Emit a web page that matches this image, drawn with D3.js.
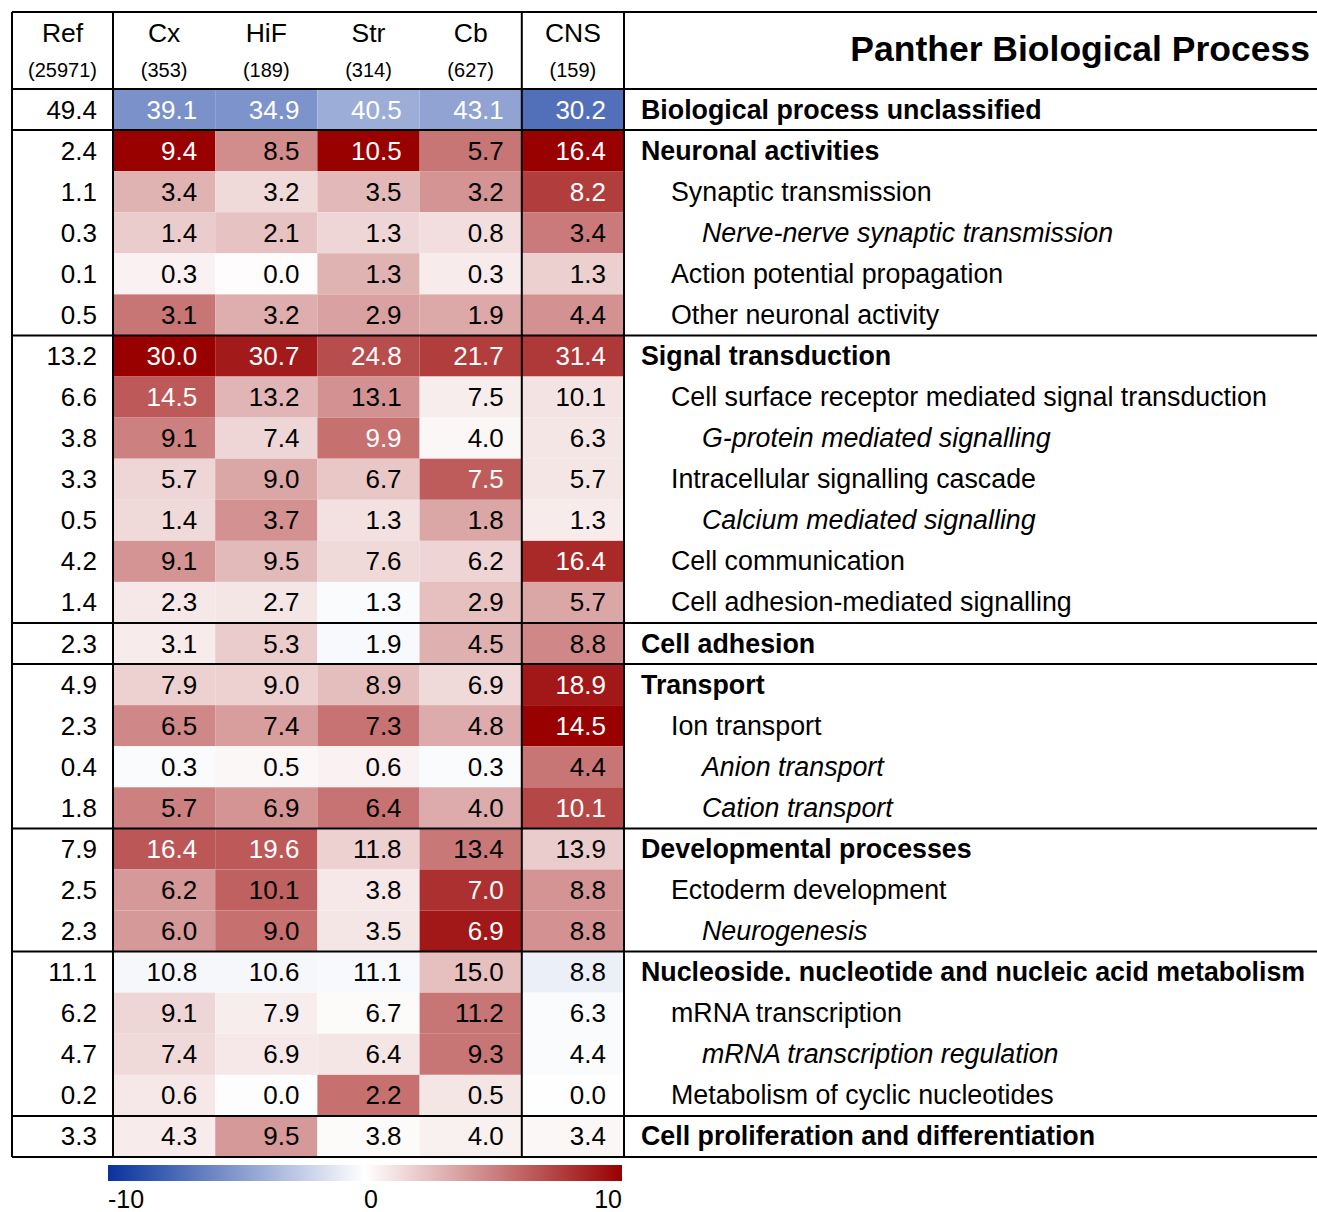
<!DOCTYPE html>
<html>
<head>
<meta charset="utf-8">
<script src="https://cdn.jsdelivr.net/npm/d3@7"></script>
<style>
  html, body { margin: 0; padding: 0; background: #ffffff; }
  svg { display: block; font-family: "Liberation Sans", Arial, Helvetica, sans-serif; }
</style>
</head>
<body>
<svg id="chart" width="1317" height="1212"></svg>
<script>
// ---------------- DATA ----------------
const columns = ["Cx", "HiF", "Str", "Cb", "CNS"];
const columnCounts = ["(353)", "(189)", "(314)", "(627)", "(159)"];
const refCount = "(25971)";
const title = "Panther Biological Process";

const labels = [
  "Biological process unclassified",
  "Neuronal activities",
  "Synaptic transmission",
  "Nerve-nerve synaptic transmission",
  "Action potential propagation",
  "Other neuronal activity",
  "Signal transduction",
  "Cell surface receptor mediated signal transduction",
  "G-protein mediated signalling",
  "Intracellular signalling cascade",
  "Calcium mediated signalling",
  "Cell communication",
  "Cell adhesion-mediated signalling",
  "Cell adhesion",
  "Transport",
  "Ion transport",
  "Anion transport",
  "Cation transport",
  "Developmental processes",
  "Ectoderm development",
  "Neurogenesis",
  "Nucleoside. nucleotide and nucleic acid metabolism",
  "mRNA transcription",
  "mRNA transcription regulation",
  "Metabolism of cyclic nucleotides",
  "Cell proliferation and differentiation"
];
// hierarchy level of each category (0 = main process, 1 = sub, 2 = sub-sub)
const levels = [0,0,1,2,1,1,0,1,2,1,2,1,1,0,0,1,2,2,0,1,2,0,1,2,1,0];

const refValues = [49.4,2.4,1.1,0.3,0.1,0.5,13.2,6.6,3.8,3.3,0.5,4.2,1.4,2.3,4.9,2.3,0.4,1.8,7.9,2.5,2.3,11.1,6.2,4.7,0.2,3.3];

const cxValues  = [39.1,9.4,3.4,1.4,0.3,3.1,30.0,14.5,9.1,5.7,1.4,9.1,2.3,3.1,7.9,6.5,0.3,5.7,16.4,6.2,6.0,10.8,9.1,7.4,0.6,4.3];
const hifValues = [34.9,8.5,3.2,2.1,0.0,3.2,30.7,13.2,7.4,9.0,3.7,9.5,2.7,5.3,9.0,7.4,0.5,6.9,19.6,10.1,9.0,10.6,7.9,6.9,0.0,9.5];
const strValues = [40.5,10.5,3.5,1.3,1.3,2.9,24.8,13.1,9.9,6.7,1.3,7.6,1.3,1.9,8.9,7.3,0.6,6.4,11.8,3.8,3.5,11.1,6.7,6.4,2.2,3.8];
const cbValues  = [43.1,5.7,3.2,0.8,0.3,1.9,21.7,7.5,4.0,7.5,1.8,6.2,2.9,4.5,6.9,4.8,0.3,4.0,13.4,7.0,6.9,15.0,11.2,9.3,0.5,4.0];
const cnsValues = [30.2,16.4,8.2,3.4,1.3,4.4,31.4,10.1,6.3,5.7,1.3,16.4,5.7,8.8,18.9,14.5,4.4,10.1,13.9,8.8,8.8,8.8,6.3,4.4,0.0,3.4];

// enrichment scores (colour value, -10..10)
const cxScores  = [-5.4,10,3.0,2.0,0.5,5.4,10,6.5,5.0,1.6,1.5,4.2,0.9,0.8,1.8,4.7,-0.2,5.0,6.6,4.0,4.0,-0.4,1.6,1.5,0.9,0.8];
const hifScores = [-5.3,4.5,1.5,2.4,0.1,3.2,9.0,2.9,1.6,3.5,4.3,2.7,1.0,2.0,1.8,3.8,0.3,4.2,6.5,6.2,5.6,-0.4,0.7,0.9,-0.1,4.0];
const strScores = [-4.0,10,2.8,1.6,3.0,3.7,7.0,4.3,5.6,2.2,1.2,1.5,-0.2,-0.3,2.6,5.5,0.5,5.5,1.8,0.9,1.0,-0.3,0.2,1.0,5.6,0.2];
const cbScores  = [-4.5,5.4,4.2,1.3,0.8,3.4,7.6,0.7,0.3,6.4,3.5,1.7,2.5,3.1,1.5,3.3,-0.2,3.3,5.3,8.1,9.1,2.5,5.4,5.4,1.0,0.6];
const cnsScores = [-7.0,10,7.6,5.2,1.9,4.3,7.8,1.1,1.0,1.0,0.8,8.4,3.5,4.7,9.1,10,5.4,7.2,2.0,4.2,4.3,-0.8,-0.2,-0.2,-0.05,0.3];

// cells flagged as significant (shown with white numbers)
const cxSignificant  = [1,1,0,0,0,0,1,1,0,0,0,0,0,0,0,0,0,0,1,0,0,0,0,0,0,0];
const hifSignificant = [1,0,0,0,0,0,1,0,0,0,0,0,0,0,0,0,0,0,1,0,0,0,0,0,0,0];
const strSignificant = [1,1,0,0,0,0,1,0,1,0,0,0,0,0,0,0,0,0,0,0,0,0,0,0,0,0];
const cbSignificant  = [1,0,0,0,0,0,1,0,0,1,0,0,0,0,0,0,0,0,0,1,1,0,0,0,0,0];
const cnsSignificant = [1,1,1,0,0,0,1,0,0,0,0,1,0,0,1,1,0,1,0,0,0,0,0,0,0,0];

const legendTicks = [-10, 0, 10];

// ---------------- BUILD ----------------
const valueSeries = [cxValues, hifValues, strValues, cbValues, cnsValues];
const scoreSeries = [cxScores, hifScores, strScores, cbScores, cnsScores];
const sigSeries = [cxSignificant, hifSignificant, strSignificant, cbSignificant, cnsSignificant];

const cells = [];
labels.forEach((lab, r) => {
  columns.forEach((c, ci) => {
    cells.push({ row: r, col: c, value: valueSeries[ci][r], score: scoreSeries[ci][r], sig: sigSeries[ci][r] });
  });
});

const svg = d3.select("#chart");
const W = 1317;
const tableLeft = 12, tableTop = 12, headerBottom = 89, tableBottom = 1157;
const refRight = 113, cellsRight = 624;

const x = d3.scaleBand().domain(columns).range([refRight, cellsRight]).paddingInner(0).paddingOuter(0);
const y = d3.scaleBand().domain(d3.range(labels.length)).range([headerBottom, tableBottom]);

const color = d3.scaleLinear()
  .domain([-10, 0, 10])
  .range(["#08339c", "#ffffff", "#990000"])
  .interpolate(d3.interpolateRgb)
  .clamp(true);

const fmt = d3.format(".1f");
const valueSize = 26, labelSize = 26.8;

// Cells
svg.append("g").selectAll("rect")
  .data(cells)
  .join("rect")
  .attr("x", d => x(d.col))
  .attr("y", d => y(d.row))
  .attr("width", x.bandwidth())
  .attr("height", y.bandwidth())
  .attr("fill", d => color(d.score));

// Cell values
svg.append("g").selectAll("text")
  .data(cells)
  .join("text")
  .attr("x", d => x(d.col) + x.bandwidth() - 18)
  .attr("y", d => y(d.row) + y.bandwidth() / 2 + 9)
  .attr("text-anchor", "end")
  .attr("font-size", valueSize)
  .attr("fill", d => d.sig ? "#ffffff" : "#000000")
  .text(d => fmt(d.value));

// Reference values
svg.append("g").selectAll("text")
  .data(refValues)
  .join("text")
  .attr("x", refRight - 16)
  .attr("y", (d, i) => y(i) + y.bandwidth() / 2 + 9)
  .attr("text-anchor", "end")
  .attr("font-size", valueSize)
  .attr("fill", "#000")
  .text(d => fmt(d));

// Category labels
const indent = [641, 671, 702];
svg.append("g").selectAll("text")
  .data(labels)
  .join("text")
  .attr("x", (d, i) => indent[levels[i]])
  .attr("y", (d, i) => y(i) + y.bandwidth() / 2 + 9)
  .attr("font-size", labelSize)
  .attr("font-weight", (d, i) => levels[i] === 0 ? "bold" : "normal")
  .attr("font-style", (d, i) => levels[i] === 2 ? "italic" : "normal")
  .attr("fill", "#000")
  .text(d => d);

// Header
const headerNames = ["Ref"].concat(columns);
const headerCounts = [refCount].concat(columnCounts);
const headerCenters = [(tableLeft + refRight) / 2].concat(columns.map(c => x(c) + x.bandwidth() / 2));
svg.append("g").selectAll("text")
  .data(headerNames)
  .join("text")
  .attr("x", (d, i) => headerCenters[i])
  .attr("y", 42)
  .attr("text-anchor", "middle")
  .attr("font-size", 26.5)
  .text(d => d);
svg.append("g").selectAll("text")
  .data(headerCounts)
  .join("text")
  .attr("x", (d, i) => headerCenters[i])
  .attr("y", 77)
  .attr("text-anchor", "middle")
  .attr("font-size", 20)
  .text(d => d);

svg.append("text")
  .attr("x", 1310)
  .attr("y", 61)
  .attr("text-anchor", "end")
  .attr("font-size", 35.5)
  .attr("font-weight", "bold")
  .text(title);

// Table lines
const lines = svg.append("g").attr("stroke", "#000").attr("stroke-width", 2);
const groupStarts = levels.map((l, i) => l === 0 ? i : null).filter(v => v !== null);
const hYs = [tableTop, headerBottom].concat(groupStarts.filter(i => i > 0).map(i => y(i))).concat([tableBottom]);
lines.selectAll("line.h")
  .data(hYs)
  .join("line")
  .attr("class", "h")
  .attr("x1", tableLeft).attr("x2", W)
  .attr("y1", d => d).attr("y2", d => d);
const vXs = [tableLeft, refRight, x("CNS"), cellsRight];
lines.selectAll("line.v")
  .data(vXs)
  .join("line")
  .attr("class", "v")
  .attr("x1", d => d).attr("x2", d => d)
  .attr("y1", tableTop).attr("y2", tableBottom);

// Legend
const legendX = d3.scaleLinear().domain([-10, 10]).range([108, 622]);
const defs = svg.append("defs");
const grad = defs.append("linearGradient").attr("id", "legendGrad")
  .attr("x1", "0%").attr("x2", "100%").attr("y1", "0%").attr("y2", "0%");
d3.range(0, 1.0001, 0.05).forEach(t => {
  grad.append("stop").attr("offset", (t * 100) + "%").attr("stop-color", color(-10 + 20 * t));
});
svg.append("rect")
  .attr("x", legendX(-10)).attr("y", 1165)
  .attr("width", legendX(10) - legendX(-10)).attr("height", 16)
  .attr("fill", "url(#legendGrad)");
svg.append("g").selectAll("text")
  .data(legendTicks)
  .join("text")
  .attr("x", d => legendX(d) + (d === 0 ? 6 : 0))
  .attr("y", 1208)
  .attr("text-anchor", d => d < 0 ? "start" : (d > 0 ? "end" : "middle"))
  .attr("font-size", 25)
  .text(d => d);
</script>
</body>
</html>
